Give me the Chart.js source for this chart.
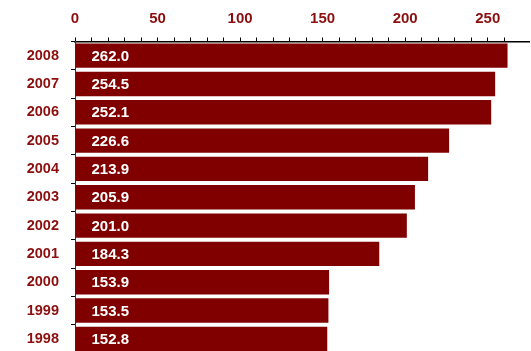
<!DOCTYPE html>
<html>
<head>
<meta charset="utf-8">
<script src="https://cdn.jsdelivr.net/npm/chart.js@4"></script>
<style>
  html, body { margin: 0; padding: 0; background: #fff; overflow: hidden; }
  canvas { display: block; }
</style>
</head>
<body>
<canvas id="chart" width="531" height="354"></canvas>
<script>
const years = ['2008', '2007', '2006', '2005', '2004', '2003', '2002', '2001', '2000', '1999', '1998'];
const values = [262.0, 254.5, 252.1, 226.6, 213.9, 205.9, 201.0, 184.3, 153.9, 153.5, 152.8];

const barColor = '#800000';
const textColor = '#8b0f0f';

// white value text at the left end of each bar
const valueLabels = {
    id: 'valueLabels',
    afterDatasetsDraw(chart) {
        const ctx = chart.ctx;
        const meta = chart.getDatasetMeta(0);
        ctx.save();
        ctx.fillStyle = '#ffffff';
        ctx.font = 'bold 15px "Liberation Sans", Arial, sans-serif';
        ctx.textAlign = 'left';
        ctx.textBaseline = 'middle';
        meta.data.forEach((bar, i) => {
            ctx.fillText(values[i].toFixed(1), bar.base + 16, bar.y + 1);
        });
        ctx.restore();
    }
};

new Chart(document.getElementById('chart'), {
    type: 'bar',
    data: {
        labels: years,
        datasets: [{
            data: values,
            backgroundColor: barColor,
            borderWidth: 0,
            categoryPercentage: 1.0,
            barPercentage: 0.86
        }]
    },
    options: {
        indexAxis: 'y',
        responsive: false,
        animation: false,
        layout: { padding: { top: 0, right: 2, bottom: 1, left: 0 } },
        plugins: {
            legend: { display: false },
            tooltip: { enabled: false }
        },
        scales: {
            x: {
                position: 'top',
                min: 0,
                max: 275,
                afterFit(scale) {
                    scale.height = 41.5;
                    scale.paddingLeft = 0;
                    scale.paddingRight = 0;
                },
                border: { color: '#000', width: 1.5 },
                grid: {
                    drawOnChartArea: false,
                    tickLength: 4,
                    tickWidth: 1,
                    tickColor: (c) => (c.tick && c.tick.value > 270 ? 'rgba(0,0,0,0)' : '#000')
                },
                ticks: {
                    stepSize: 10,
                    autoSkip: false,
                    maxRotation: 0,
                    padding: 10,
                    color: textColor,
                    font: { family: '"Liberation Sans", Arial, sans-serif', size: 15, weight: 'bold' },
                    callback: (v) => (v % 50 === 0 ? String(v) : '')
                }
            },
            y: {
                afterFit(scale) {
                    scale.width = 75;
                    scale.paddingTop = 0;
                    scale.paddingBottom = 0;
                },
                border: { color: '#333', width: 1 },
                grid: {
                    offset: true,
                    drawOnChartArea: false,
                    tickLength: 4,
                    tickColor: '#000'
                },
                ticks: {
                    padding: 12,
                    color: textColor,
                    font: { family: '"Liberation Sans", Arial, sans-serif', size: 14.5, weight: 'bold' }
                }
            }
        }
    },
    plugins: [valueLabels]
});
</script>
</body>
</html>
